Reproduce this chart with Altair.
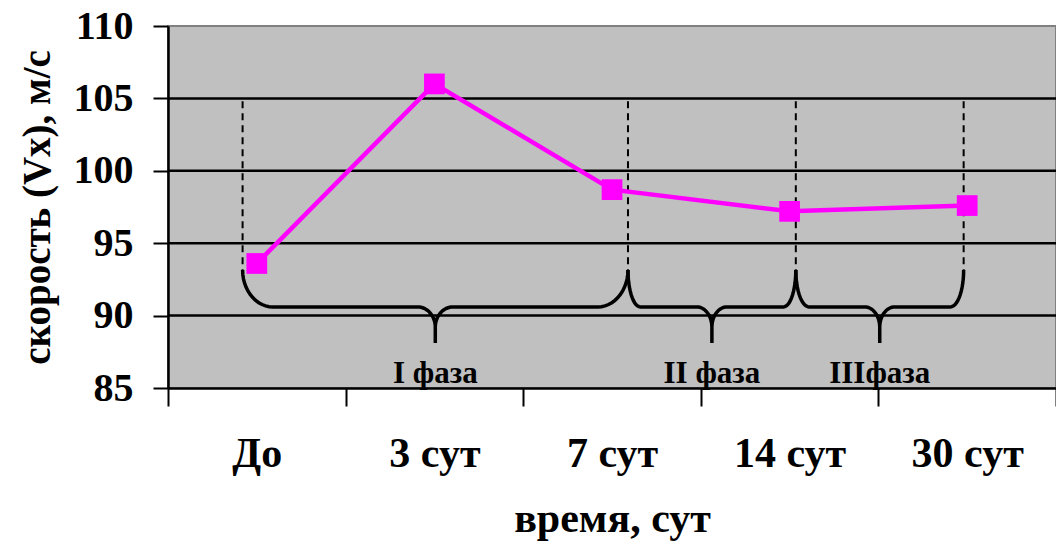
import math
import altair as alt
import numpy as np
import pandas as pd

# ---- data ----
categories = ["До", "3 сут", "7 сут", "14 сут", "30 сут"]
speed = [93.6, 106.0, 98.7, 97.2, 97.6]
y_ticks = [85, 90, 95, 100, 105, 110]
grid_values = [90, 95, 100, 105]

# phase annotation (x in category-axis units 0..5, y in data units)
phase_labels = ["I фаза", "II фаза", "IIIфаза"]
phase_start = [0.42, 2.59, 3.535]
phase_end = [2.59, 3.535, 4.48]
brace_end_rx = [0.17, 0.07, 0.075]
brace_mid_rx = [0.10, 0.085, 0.085]
guide_x = [0.42, 2.59, 3.535, 4.48]
guide_top = 104.8
brace_top = 93.15
brace_mid = 90.6
brace_curve_bottom = 89.2
brace_tip = 88.1
label_y = 85.35

FONT = "Liberation Serif"
MAGENTA = "#FF00FF"

# ---- tables ----
main_df = pd.DataFrame({
    "x": [i + 0.5 for i in range(len(categories))],
    "y": speed,
    "cat": categories,
})
grid_df = pd.DataFrame({"y": grid_values})
guide_df = pd.DataFrame({"x": guide_x, "y": [guide_top] * len(guide_x),
                         "y2": [brace_top] * len(guide_x)})


def brace_points(x0, x1, rx, rx2):
    xm = (x0 + x1) / 2
    t = np.linspace(0, math.pi / 2, 14)
    left = []
    for ti in t:
        left.append((x0 + rx - rx * math.cos(ti),
                     brace_top - (brace_top - brace_mid) * math.sin(ti)))
    for ti in t:
        left.append((xm - rx2 + rx2 * math.sin(ti),
                     brace_curve_bottom + (brace_mid - brace_curve_bottom) * math.cos(ti)))
    left.append((xm, brace_tip))
    right = [(2 * xm - px, py) for (px, py) in reversed(left[:-1])]
    return left + right


rows = []
for k, lab in enumerate(phase_labels):
    pts = brace_points(phase_start[k], phase_end[k], brace_end_rx[k], brace_mid_rx[k])
    for i, (px, py) in enumerate(pts):
        rows.append({"x": px, "y": py, "phase": lab, "i": i})
brace_df = pd.DataFrame(rows)

label_df = pd.DataFrame({
    "x": [(a + b) / 2 for a, b in zip(phase_start, phase_end)],
    "y": [label_y] * len(phase_labels),
    "label": phase_labels,
})

# ---- scales / axes ----
xscale = alt.Scale(domain=[0, len(categories)], nice=False, zero=False)
yscale = alt.Scale(domain=[85, 110], nice=False, zero=False)

label_array = "[" + ",".join("'" + c + "'" for c in categories) + ",'']"
x_axis = alt.Axis(
    values=list(range(len(categories) + 1)),
    labelExpr=label_array + "[datum.value]",
    labelOffset=88.8,
    labelFlush=False, labelOverlap=False, labelBound=False,
    tickSize=18, tickWidth=2, tickColor="black",
    domainColor="black", domainWidth=2.5,
    labelFont=FONT, labelFontWeight="bold", labelFontSize=42, labelColor="black",
    labelPadding=27,
    title="время, сут", titleFont=FONT, titleFontWeight="bold", titleFontSize=42,
    titleColor="black", titlePadding=24,
    grid=False,
)
y_axis = alt.Axis(
    values=y_ticks,
    tickSize=15, tickWidth=2, tickColor="black",
    domainColor="black", domainWidth=2.5,
    labelFont=FONT, labelFontWeight="bold", labelFontSize=40, labelColor="black",
    labelPadding=20,
    title="скорость (Vx), м/с", titleFont=FONT, titleFontWeight="bold",
    titleFontSize=39, titleColor="black", titlePadding=16,
    grid=False,
)

X = alt.X("x:Q", scale=xscale, axis=x_axis)
Y = alt.Y("y:Q", scale=yscale, axis=y_axis)

grid = alt.Chart(grid_df).mark_rule(color="black", strokeWidth=2.5).encode(y=Y)
guides = alt.Chart(guide_df).mark_rule(color="black", strokeWidth=2, strokeDash=[7, 5]).encode(
    x=X, y=Y, y2="y2:Q",
)
braces = alt.Chart(brace_df).mark_line(color="black", strokeWidth=3.5).encode(
    x=X, y=Y, detail="phase:N", order="i:Q",
)
labels = alt.Chart(label_df).mark_text(
    font=FONT, fontWeight="bold", fontSize=31, color="black",
    align="center", baseline="alphabetic"
).encode(x=X, y=Y, text="label:N")
line = alt.Chart(main_df).mark_line(color=MAGENTA, strokeWidth=4.5).encode(x=X, y=Y)
points = alt.Chart(main_df).mark_point(
    shape="square", filled=True, size=430, color=MAGENTA, opacity=1
).encode(x=X, y=Y)

chart = alt.layer(grid, guides, braces, labels, line, points).properties(
    width=888, height=362,
    padding={"left": 168, "top": 26, "right": 0, "bottom": 159},
    autosize=alt.AutoSizeParams(type="none"),
    background="white",
).configure_view(fill="#C0C0C0", stroke="#808080", strokeWidth=2)

chart.save("out.html", embed_options={"renderer": "svg", "actions": False})
